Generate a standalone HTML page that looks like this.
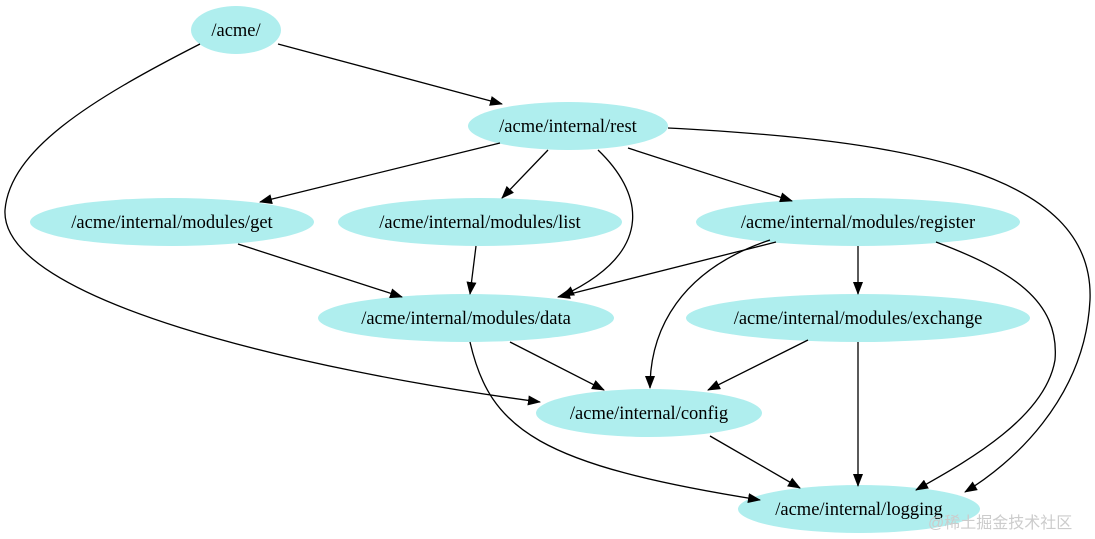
<!DOCTYPE html>
<html><head><meta charset="utf-8"><style>
html,body{margin:0;padding:0;background:#fff;}
svg{display:block;}
text{font-family:"Liberation Serif","Noto Serif CJK SC",serif;font-size:18.5px;fill:#000;}
</style></head><body>
<svg width="1095" height="539" viewBox="0 0 1095 539" xmlns="http://www.w3.org/2000/svg">
<defs>
<marker id="a" markerWidth="13" markerHeight="10" refX="12" refY="5" orient="auto" markerUnits="userSpaceOnUse">
<path d="M0,0 L13,5 L0,10 Z" fill="#000"/>
</marker>
</defs>
<g fill="#afeeee">
<ellipse cx="236" cy="30" rx="45" ry="24"/>
<ellipse cx="568" cy="126" rx="100" ry="24"/>
<ellipse cx="172" cy="222" rx="142" ry="24"/>
<ellipse cx="480" cy="222" rx="142" ry="24"/>
<ellipse cx="858" cy="222" rx="162" ry="24"/>
<ellipse cx="466" cy="318" rx="148" ry="24"/>
<ellipse cx="858" cy="318" rx="172" ry="24"/>
<ellipse cx="649" cy="413" rx="113" ry="24"/>
<ellipse cx="859" cy="509" rx="121" ry="24"/>
</g>
<g fill="none" stroke="#000" stroke-width="1.3" marker-end="url(#a)">
<path d="M278,44 L502,104"/>
<path d="M200,44 C90,100 10,150 5,210 C0,300 300,370 540,402"/>
<path d="M500,143 L260,202"/>
<path d="M548,150 L502,198"/>
<path d="M598,150 C640,190 660,250 562,296"/>
<path d="M628,148 L792,201"/>
<path d="M668,128 C900,140 1095,170 1090,300 C1085,400 1010,465 965,492"/>
<path d="M238,244 L402,297"/>
<path d="M476,246 L470,294"/>
<path d="M776,242 L558,297"/>
<path d="M858,246 L858,294"/>
<path d="M770,240 C680,270 650,330 650,388"/>
<path d="M936,242 C1010,270 1060,300 1055,360 C1045,420 960,465 916,490"/>
<path d="M510,342 L604,390"/>
<path d="M470,342 C490,430 540,465 760,500"/>
<path d="M808,340 L708,390"/>
<path d="M858,342 L858,486"/>
<path d="M710,436 L800,488"/>
</g>
<g text-anchor="middle">
<text x="236" y="36">/acme/</text>
<text x="568" y="132">/acme/internal/rest</text>
<text x="172" y="228">/acme/internal/modules/get</text>
<text x="480" y="228">/acme/internal/modules/list</text>
<text x="858" y="228">/acme/internal/modules/register</text>
<text x="466" y="324">/acme/internal/modules/data</text>
<text x="858" y="324">/acme/internal/modules/exchange</text>
<text x="649" y="419">/acme/internal/config</text>
<text x="859" y="515">/acme/internal/logging</text>
</g>
<text x="928" y="528" style="font-family:'Liberation Sans','Noto Sans CJK SC',sans-serif;font-size:16px;fill:#cccccc;">@稀土掘金技术社区</text>
</svg>
</body></html>
